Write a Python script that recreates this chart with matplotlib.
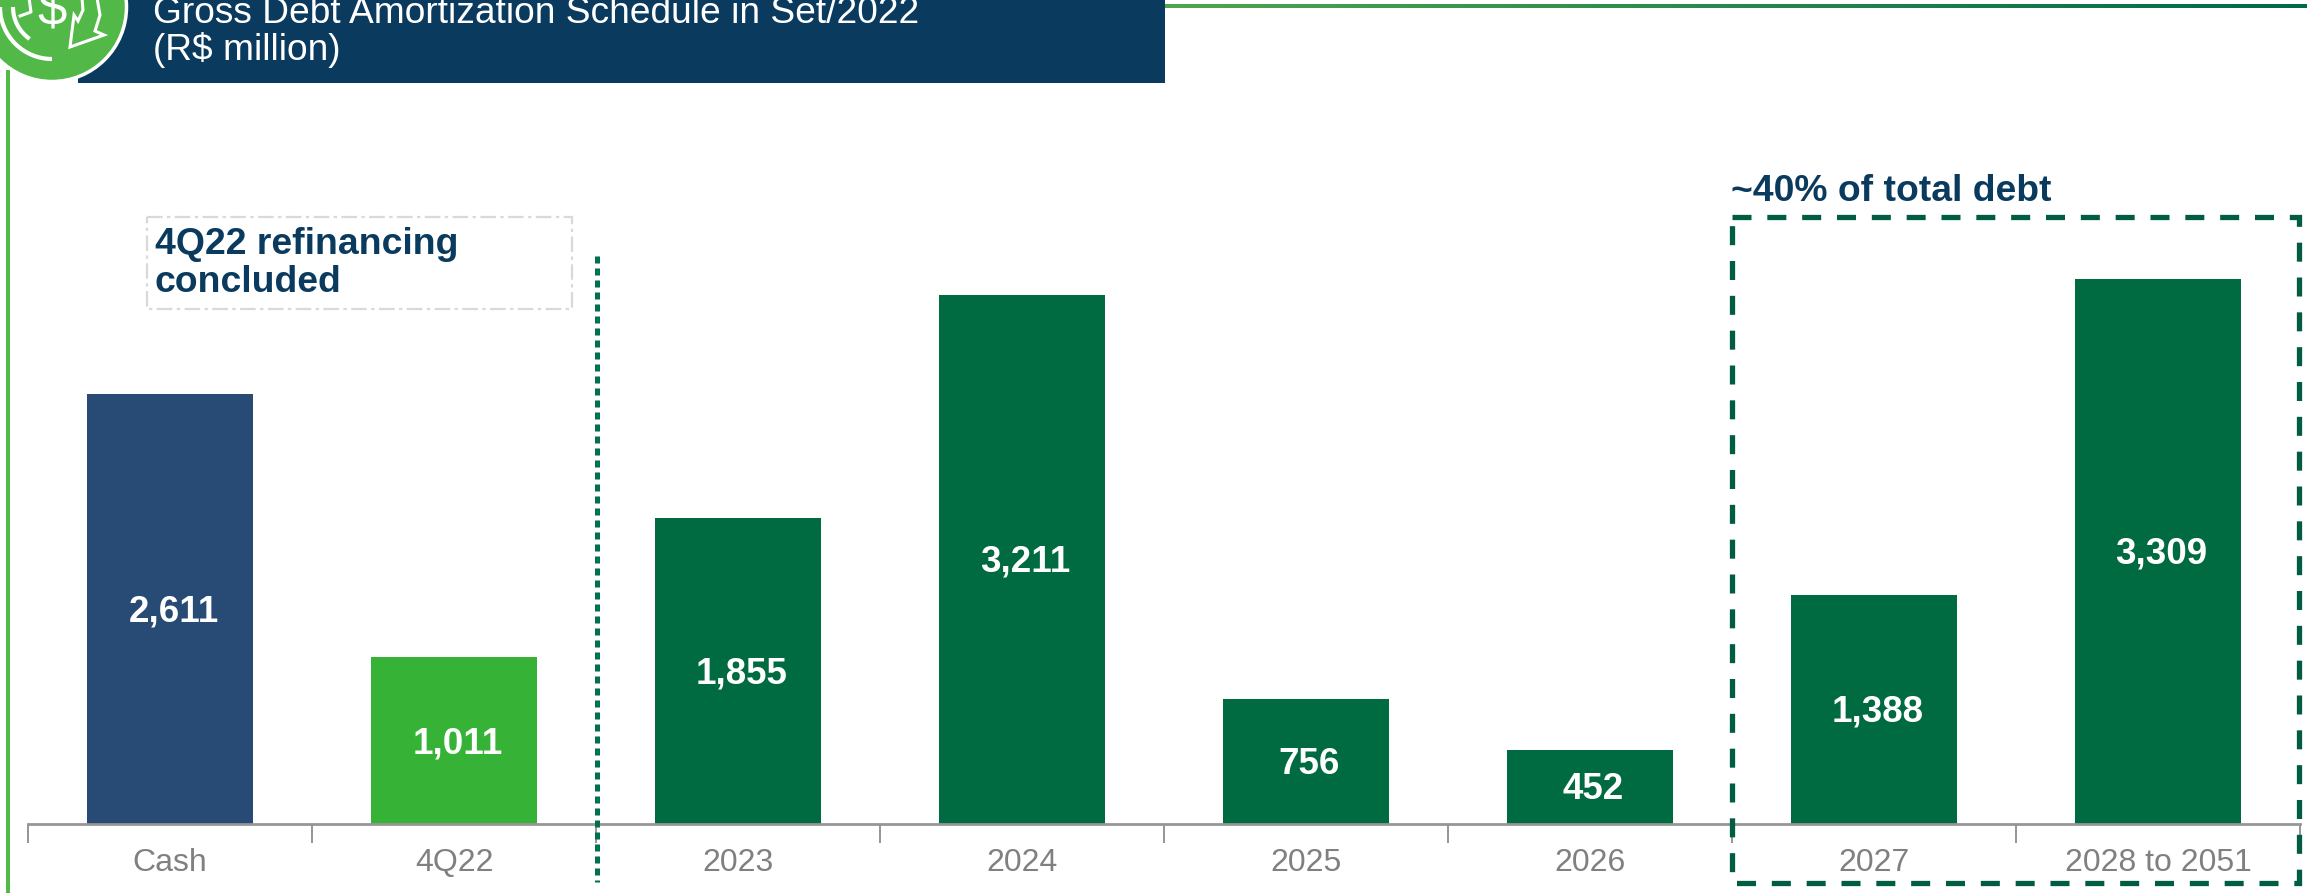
import numpy as np
import matplotlib
matplotlib.use("Agg")
import matplotlib.pyplot as plt
from matplotlib.patches import Rectangle, Circle, Arc, Polygon

plt.rcParams['font.family'] = ['Liberation Sans', 'DejaVu Sans']

W = 2307
H = 893

categories = ["Cash", "4Q22", "2023", "2024", "2025", "2026", "2027", "2028 to 2051"]
values = [2611, 1011, 1855, 3211, 756, 452, 1388, 3309]
colors = ["#274b75", "#36b336", "#006a41", "#006a41", "#006a41", "#006a41", "#006a41", "#006a41"]

title_lines = ["Gross Debt Amortization Schedule in Set/2022", "(R$ million)"]
note_lines = ["4Q22 refinancing", "concluded"]
bracket_text = "~40% of total debt"

navy = "#0a3a5e"
light_green = "#52b848"
box_green = "#005c42"

fig = plt.figure(figsize=(W / 100, H / 100), dpi=100)

# overlay in pixel coordinates for the slide furniture
bg = fig.add_axes([0, 0, 1, 1])
bg.axis('off')

# bars, axis from x=28 to x=2300 with baseline at y=824
left, right, top, base = 28, 2300, 224, 824
ax = fig.add_axes([left / W, 1 - base / H, (right - left) / W, (base - top) / H])
ax.patch.set_alpha(0)
x = np.arange(len(values))
ax.bar(x, values, width=0.585, color=colors, zorder=2)
ax.set_xlim(-0.5, len(values) - 0.5)
ax.set_ylim(0, (base - top) / 0.1647)
for s in ['top', 'left', 'right']:
    ax.spines[s].set_visible(False)
ax.spines['bottom'].set_color("#969696")
ax.spines['bottom'].set_linewidth(2)
ax.set_yticks([])
ax.set_xticks(np.arange(len(values) + 1) - 0.5)
ax.set_xticklabels([])
ax.tick_params(axis='x', length=14, width=1.4, color="#969696")
ax.set_xticks(x, minor=True)
ax.set_xticklabels(categories, minor=True, fontsize=23, color="#808080")
ax.tick_params(axis='x', which='minor', length=0, pad=17)

for i, v in enumerate(values):
    ax.annotate(f"{v:,}", (i, v / 2), xytext=(2.5, -2), textcoords='offset points',
                ha='center', va='center', color='white',
                fontsize=26.5, fontweight='bold', zorder=3)

# header band
bg.add_patch(Rectangle((78, 0), 1087, 83, color=navy, lw=0))
bg.text(153, 23, title_lines[0], fontsize=26.7, color='white', va='baseline')
bg.text(153, 60, title_lines[1], fontsize=26.7, color='white', va='baseline')

# gradient rule along the top, green margin line on the left
grad = np.linspace(0, 1, 256)[None, :]
cmap = matplotlib.colors.LinearSegmentedColormap.from_list("rule", ["#4fa650", "#00694a"])
bg.imshow(grad, extent=(1165, W, 8, 4), cmap=cmap, aspect='auto', zorder=1)
bg.set_xlim(0, W)
bg.set_ylim(H, 0)
bg.add_patch(Rectangle((6, 70), 4, H - 70, color=light_green, lw=0))

# round icon with the dollar sign and the circular arrows
bg.add_patch(Circle((52, 7), 74.5, fc=light_green, ec='white', lw=2.5, zorder=4))
bg.add_patch(Arc((52, 7), 104, 104, theta1=90, theta2=180, ec='white', lw=3, zorder=5))
bg.add_patch(Arc((52, 7), 78, 78, theta1=125, theta2=180, ec='white', lw=3, zorder=5))
bg.add_patch(Polygon([(82, -2), (83, 10), (78, 21), (74, 15), (70, 47), (104, 35),
                      (95, 31), (100, 15), (97, -2)],
                     fc=light_green, ec='white', lw=2.2, zorder=5))
bg.plot([20, 31, 29], [16, 12, -2], color='white', lw=2.2, zorder=5)
bg.text(52, 10, "$", fontsize=38, color='white', ha='center', va='center', zorder=5)
bg.set_xlim(0, W)
bg.set_ylim(H, 0)

# note box and divider
bg.add_patch(Rectangle((147, 217), 425, 92, fill=False, ec="#d9d9d9", lw=1.6,
                       ls=(0, (7, 2, 1.5, 2))))
bg.text(155, 254, note_lines[0], fontsize=26.9, fontweight='bold', color=navy, va='baseline')
bg.text(155, 292, note_lines[1], fontsize=26.9, fontweight='bold', color=navy, va='baseline')
divider = fig.add_axes([0, 0, 1, 1])
divider.set_xlim(0, W)
divider.set_ylim(H, 0)
divider.axis('off')
divider.plot([597, 597], [256, 882], color="#007050", lw=3.6, ls=(0, (1.4, 1.0)))

# dashed bracket around the long-dated maturities
divider.add_patch(Rectangle((1732, 217), 567, 666, fill=False, ec=box_green, lw=3.8,
                            ls=(0, (3.6, 3.0))))
divider.text(1731, 201, bracket_text, fontsize=26.8, fontweight='bold', color=navy, va='baseline')

fig.savefig("out.png", dpi=100)
